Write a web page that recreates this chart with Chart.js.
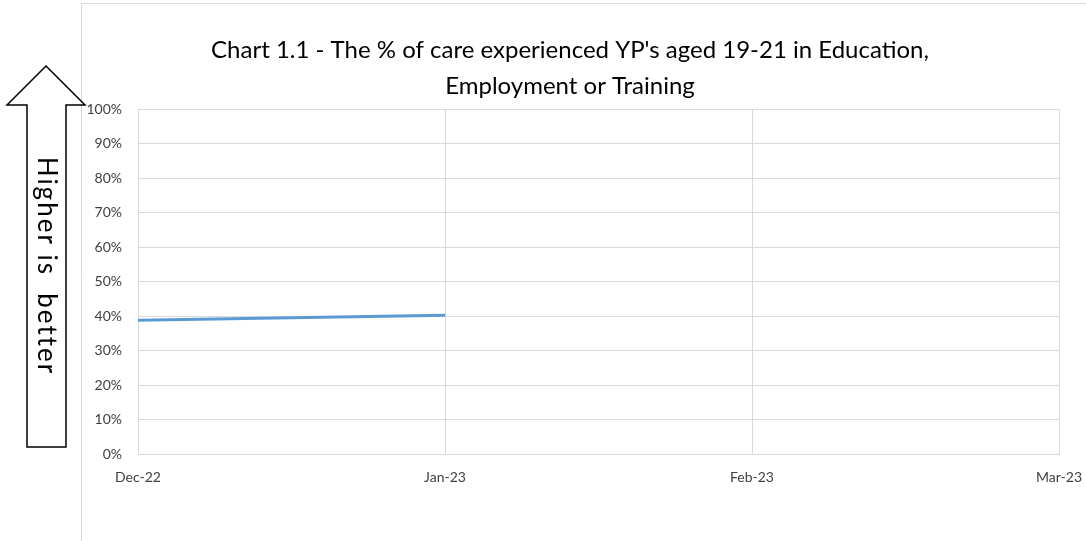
<!DOCTYPE html>
<html>
<head>
<meta charset="utf-8">
<title>Chart 1.1</title>
<script src="https://cdn.jsdelivr.net/npm/chart.js@4.4.1/dist/chart.umd.min.js"></script>
<style>
  html, body { margin: 0; padding: 0; background: #fff; }
  #wrap { width: 1086px; height: 541px; }
</style>
</head>
<body>
<div id="wrap"><canvas id="chart" width="1086" height="541"></canvas></div>
<script>
"use strict";

// Данные графика: месяцы и доля (%) молодых людей в EET.
const months = ["Dec-22", "Jan-23", "Feb-23", "Mar-23"];
const eetShare = [38.8, 40.2, null, null];
const yTicks = [0, 10, 20, 30, 40, 50, 60, 70, 80, 90, 100];

const FONT = "Lato, 'Open Sans', 'Noto Sans', sans-serif";
const GRID = "#d9d9d9";
const LINE = "#5B9BD5";

// Рамка области диаграммы и стрелка «Higher is better» слева.
const decor = {
  id: "decor",
  beforeDraw(chart) {
    const ctx = chart.ctx;
    ctx.save();
    ctx.strokeStyle = GRID;
    ctx.lineWidth = 1;
    ctx.beginPath();
    ctx.moveTo(81.5, 541);
    ctx.lineTo(81.5, 3.5);
    ctx.lineTo(1086, 3.5);
    ctx.stroke();
    ctx.restore();
  },
  afterDraw(chart) {
    const ctx = chart.ctx;
    ctx.save();
    ctx.strokeStyle = "#000";
    ctx.lineWidth = 1.5;
    ctx.fillStyle = "#fff";
    ctx.beginPath();
    ctx.moveTo(46, 66);
    ctx.lineTo(85, 105);
    ctx.lineTo(66, 105);
    ctx.lineTo(66, 447);
    ctx.lineTo(27, 447);
    ctx.lineTo(27, 105);
    ctx.lineTo(7, 105);
    ctx.closePath();
    ctx.fill();
    ctx.stroke();
    ctx.translate(46, 266);
    ctx.rotate(Math.PI / 2);
    ctx.fillStyle = "#000";
    ctx.font = "26px " + FONT;
    ctx.letterSpacing = "2px";
    ctx.textAlign = "center";
    ctx.textBaseline = "middle";
    ctx.fillText("Higher is  better", 0, 0);
    ctx.restore();
  },
};

new Chart(document.getElementById("chart"), {
  type: "line",
  data: {
    labels: months,
    datasets: [{
      label: "% in EET",
      data: eetShare,
      borderColor: LINE,
      backgroundColor: LINE,
      borderWidth: 3,
      pointRadius: 0,
      tension: 0,
    }],
  },
  options: {
    responsive: false,
    animation: false,
    layout: { padding: { left: 81, right: 27, top: 0, bottom: 0 } },
    plugins: {
      legend: { display: false },
      tooltip: { enabled: false },
      title: {
        display: true,
        text: ["Chart 1.1 - The % of care experienced YP's aged 19-21 in Education,",
          "Employment or Training"],
        color: "#000",
        font: { family: FONT, size: 24, weight: "normal", lineHeight: 1.5 },
        padding: { top: 32, bottom: 5 },
      },
    },
    scales: {
      x: {
        offset: false,
        grid: { color: GRID, lineWidth: 1, drawTicks: false },
        border: { color: GRID },
        ticks: { color: "#404040", font: { family: FONT, size: 14 }, padding: 15, maxRotation: 0 },
        afterFit: (s) => { s.height = 87; s.paddingLeft = 0; s.paddingRight = 0; },
      },
      y: {
        min: 0,
        max: 100,
        afterBuildTicks: (s) => { s.ticks = yTicks.map((v) => ({ value: v })); },
        grid: { color: GRID, lineWidth: 1, drawTicks: false },
        border: { color: GRID },
        ticks: { color: "#404040", font: { family: FONT, size: 14 }, padding: 16,
          callback: (v) => v + "%" },
        afterFit: (s) => { s.width = 57; },
      },
    },
  },
  plugins: [decor],
});
</script>
</body>
</html>
